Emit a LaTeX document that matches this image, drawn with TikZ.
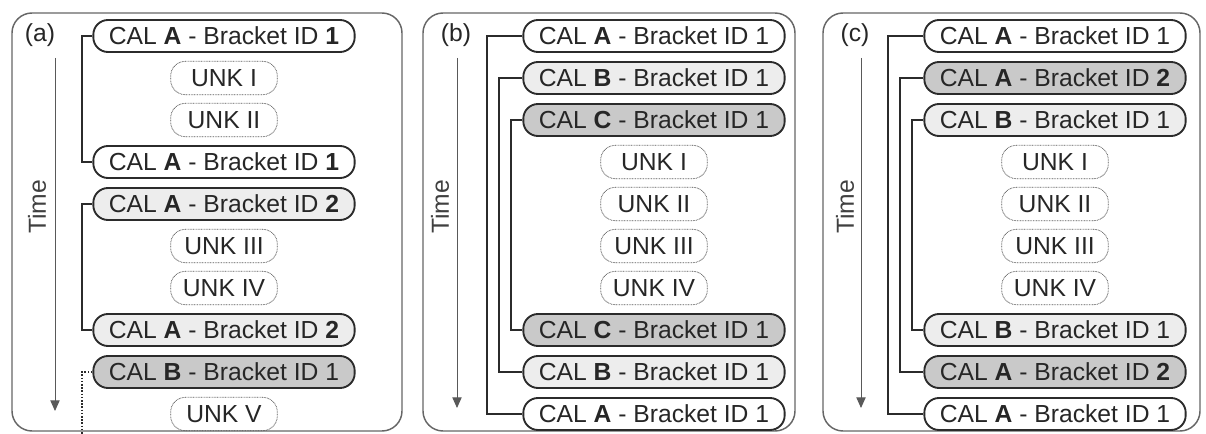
\documentclass[tikz,border=0pt]{standalone}
\usepackage{fontspec}
\setmainfont{Liberation Sans}
\usetikzlibrary{positioning,arrows.meta}
\definecolor{callight}{HTML}{EDEDED}
\definecolor{caldark}{HTML}{C9C9C9}
\definecolor{edgegray}{HTML}{2B2B2B}
\begin{document}
\begin{tikzpicture}[
    x=0.75pt, y=-0.75pt,
    node distance=31.5pt,
    cal/.style={rectangle, rounded corners=11pt, minimum width=196pt, minimum height=24pt, inner sep=0pt, text centered, draw=edgegray, line width=1.4pt, fill=white, font=\fontsize{18.5}{20}\selectfont, text=black!85},
    unk/.style={rectangle, rounded corners=11pt, minimum width=80pt, minimum height=25pt, inner sep=0pt, text centered, draw=black!65, dash pattern=on 0.6pt off 0.6pt, line width=0.6pt, font=\fontsize{18.5}{20}\selectfont, text=black!85},
    panel/.style={draw=black!60, line width=1.1pt, rounded corners=15pt},
    bracket/.style={draw=edgegray, line width=1.4pt},
    timelbl/.style={rotate=90, font=\fontsize{18.5}{20}\selectfont, text=black!75},
    arrow/.style={draw=black!65, line width=0.7pt, -{Triangle[length=8pt,width=7pt]}}
]
\useasboundingbox (0,0) rectangle (1206,434);

% Panel frames
\draw[panel] (12,13) rectangle (402,431);
\draw[panel] (423,13) rectangle (795,431);
\draw[panel] (823,13) rectangle (1200,431);

% Panel (a): two calibrations of A, then B
\node[font=\fontsize{18.5}{20}\selectfont, text=black!85] (laba) at (40,35) {(a)};
\node (a0) [cal] at (224,36) {CAL \textbf{A} - Bracket ID \textbf{1}};
\node (a1) [unk, below of=a0] {UNK I};
\node (a2) [unk, below of=a1] {UNK II};
\node (a3) [cal, below of=a2] {CAL \textbf{A} - Bracket ID \textbf{1}};
\node (a4) [cal, below of=a3, fill=callight] {CAL \textbf{A} - Bracket ID \textbf{2}};
\node (a5) [unk, below of=a4] {UNK III};
\node (a6) [unk, below of=a5] {UNK IV};
\node (a7) [cal, below of=a6, fill=callight] {CAL \textbf{A} - Bracket ID \textbf{2}};
\node (a8) [cal, below of=a7, fill=caldark] {CAL \textbf{B} - Bracket ID 1};
\node (a9) [unk, below of=a8] {UNK V};

% Time axis (a)
\node (timea) [timelbl] at (37,207) {Time};
\coordinate (atop) at (55,58);
\coordinate (abot) at (55,411);
\draw[arrow] (atop) -- (abot);

% Brackets (a)
\draw[bracket] (a0.west) -- ++(-10,0) |- (a3.west);
\draw[bracket] (a4.west) -- ++(-10,0) |- (a7.west);
\coordinate (aend) at (82,434);
\draw[bracket, line width=1.1pt, dash pattern=on 1.2pt off 1.2pt] (a8.west) -| (aend);

% Panel (b): nested A, B, C
\node[font=\fontsize{18.5}{20}\selectfont, text=black!85] (labb) at (456,35) {(b)};
\node (b0) [cal] at (654,36) {CAL \textbf{A} - Bracket ID 1};
\node (b1) [cal, below of=b0, fill=callight] {CAL \textbf{B} - Bracket ID 1};
\node (b2) [cal, below of=b1, fill=caldark] {CAL \textbf{C} - Bracket ID 1};
\node (b3) [unk, below of=b2] {UNK I};
\node (b4) [unk, below of=b3] {UNK II};
\node (b5) [unk, below of=b4] {UNK III};
\node (b6) [unk, below of=b5] {UNK IV};
\node (b7) [cal, below of=b6, fill=caldark] {CAL \textbf{C} - Bracket ID 1};
\node (b8) [cal, below of=b7, fill=callight] {CAL \textbf{B} - Bracket ID 1};
\node (b9) [cal, below of=b8] {CAL \textbf{A} - Bracket ID 1};

% Time axis (b)
\node (timeb) [timelbl] at (440,207) {Time};
\coordinate (btop) at (457,58);
\coordinate (bbot) at (457,408);
\draw[arrow] (btop) -- (bbot);

% Brackets (b)
\draw[bracket] (b0.west) -- ++(-35,0) |- (b9.west);
\draw[bracket] (b1.west) -- ++(-23,0) |- (b8.west);
\draw[bracket] (b2.west) -- ++(-11,0) |- (b7.west);

% Panel (c): nested A1, A2, B
\node[font=\fontsize{18.5}{20}\selectfont, text=black!85] (labc) at (855,35) {(c)};
\node (c0) [cal] at (1055,36) {CAL \textbf{A} - Bracket ID 1};
\node (c1) [cal, below of=c0, fill=caldark] {CAL \textbf{A} - Bracket ID \textbf{2}};
\node (c2) [cal, below of=c1, fill=callight] {CAL \textbf{B} - Bracket ID 1};
\node (c3) [unk, below of=c2] {UNK I};
\node (c4) [unk, below of=c3] {UNK II};
\node (c5) [unk, below of=c4] {UNK III};
\node (c6) [unk, below of=c5] {UNK IV};
\node (c7) [cal, below of=c6, fill=callight] {CAL \textbf{B} - Bracket ID 1};
\node (c8) [cal, below of=c7, fill=caldark] {CAL \textbf{A} - Bracket ID \textbf{2}};
\node (c9) [cal, below of=c8] {CAL \textbf{A} - Bracket ID 1};

% Time axis (c)
\node (timec) [timelbl] at (845,207) {Time};
\coordinate (ctop) at (861,58);
\coordinate (cbot) at (861,408);
\draw[arrow] (ctop) -- (cbot);

% Brackets (c)
\draw[bracket] (c0.west) -- ++(-35,0) |- (c9.west);
\draw[bracket] (c1.west) -- ++(-23,0) |- (c8.west);
\draw[bracket] (c2.west) -- ++(-11,0) |- (c7.west);

\end{tikzpicture}
\end{document}
